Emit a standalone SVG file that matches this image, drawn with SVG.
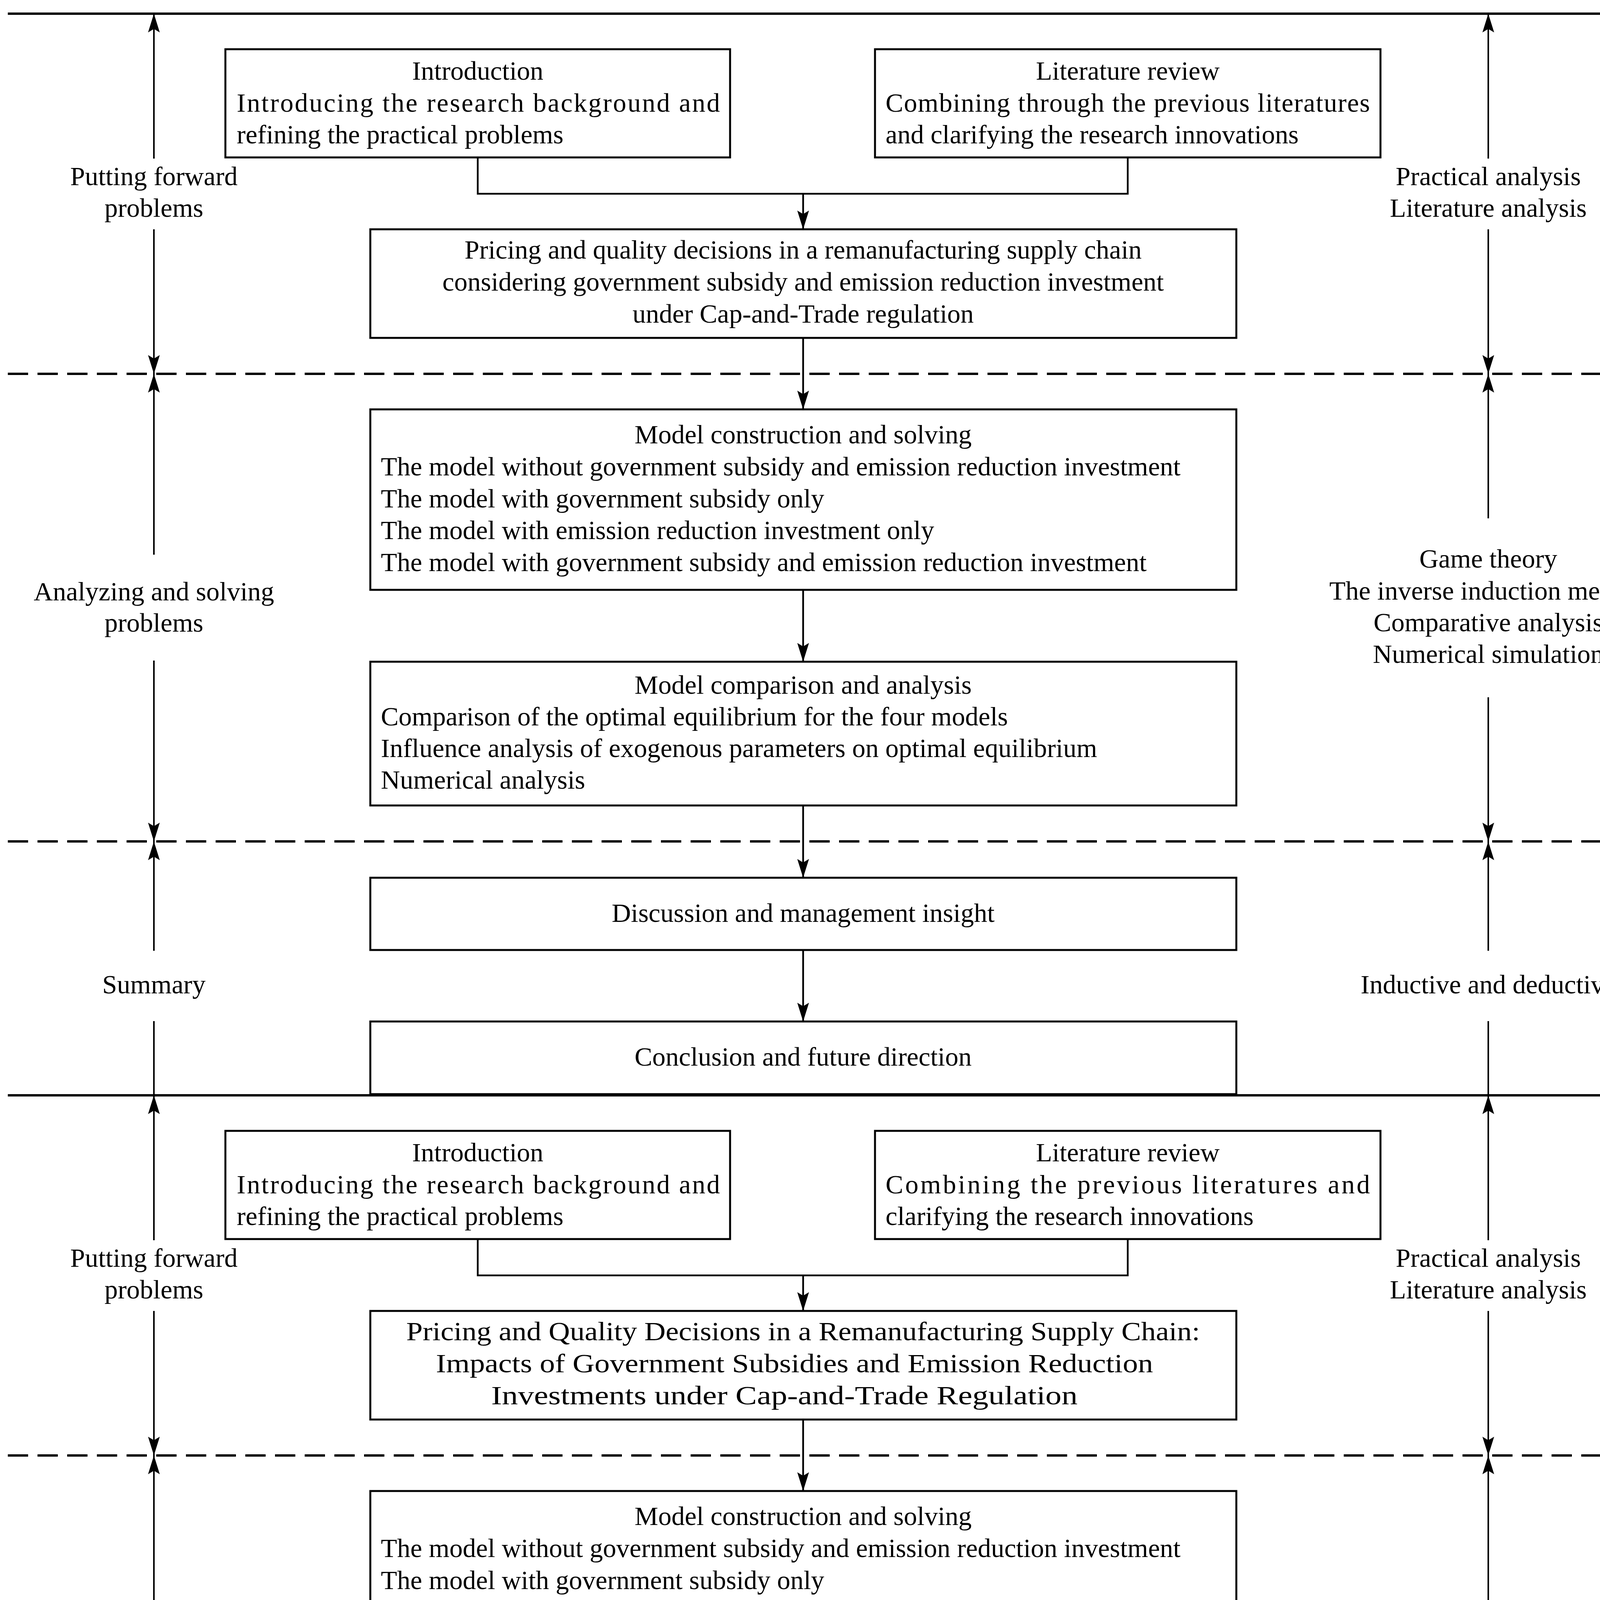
<svg xmlns="http://www.w3.org/2000/svg" width="4307" height="5687" viewBox="0 0 4307 5687">
<style>
.box{fill:#fff;stroke:#000;stroke-width:5}
.t{font-family:"Liberation Serif","Times New Roman",serif;font-size:68px;fill:#000}
.c{text-anchor:middle}
.conn{fill:none;stroke:#000;stroke-width:4.5}
.axis{fill:none;stroke:#000;stroke-width:4}
.sep{stroke:#000;stroke-width:6}
.dash{stroke:#000;stroke-width:6;stroke-dasharray:52 24}
</style>
<defs>
<marker id="ah" viewBox="-52 -18 54 36" markerWidth="54" markerHeight="36" refX="0" refY="0" orient="auto" markerUnits="userSpaceOnUse">
<path d="M0,0 L-48,-15 L-39,0 L-48,15 Z" fill="#000"/>
</marker>
</defs>
<rect width="4307" height="5687" fill="#fff"/>

<g id="separators">
<line class="sep" x1="20" y1="35" x2="4280" y2="35"/>
<line class="dash" x1="20" y1="957" x2="4280" y2="957"/>
<line class="dash" x1="20" y1="2154" x2="4280" y2="2154"/>
<line class="sep" x1="20" y1="2804" x2="4280" y2="2804"/>
<line class="dash" x1="20" y1="3726" x2="4280" y2="3726"/>
<line class="dash" x1="20" y1="4923" x2="4280" y2="4923"/>
<line class="sep" x1="20" y1="5665" x2="4280" y2="5665"/>
</g>

<!-- ===== Upper diagram ===== -->
<g id="upper">
<g id="connectors-upper">
<path class="conn" d="M1223,403 V496 H2887 V403"/>
<line class="conn" x1="2056" y1="496" x2="2056" y2="587" marker-end="url(#ah)"/>
<line class="conn" x1="2056" y1="865" x2="2056" y2="1048" marker-end="url(#ah)"/>
<line class="conn" x1="2056" y1="1510" x2="2056" y2="1694" marker-end="url(#ah)"/>
<line class="conn" x1="2056" y1="2062" x2="2056" y2="2247" marker-end="url(#ah)"/>
<line class="conn" x1="2056" y1="2432" x2="2056" y2="2615" marker-end="url(#ah)"/>
<line class="axis" x1="394" y1="406" x2="394" y2="35" marker-end="url(#ah)"/>
<line class="axis" x1="394" y1="587" x2="394" y2="957" marker-end="url(#ah)"/>
<line class="axis" x1="394" y1="1420" x2="394" y2="957" marker-end="url(#ah)"/>
<line class="axis" x1="394" y1="1691" x2="394" y2="2154" marker-end="url(#ah)"/>
<line class="axis" x1="394" y1="2434" x2="394" y2="2154" marker-end="url(#ah)"/>
<line class="axis" x1="394" y1="2614" x2="394" y2="2804"/>
<line class="axis" x1="3810" y1="406" x2="3810" y2="35" marker-end="url(#ah)"/>
<line class="axis" x1="3810" y1="587" x2="3810" y2="957" marker-end="url(#ah)"/>
<line class="axis" x1="3810" y1="1327" x2="3810" y2="957" marker-end="url(#ah)"/>
<line class="axis" x1="3810" y1="1785" x2="3810" y2="2154" marker-end="url(#ah)"/>
<line class="axis" x1="3810" y1="2434" x2="3810" y2="2154" marker-end="url(#ah)"/>
<line class="axis" x1="3810" y1="2614" x2="3810" y2="2804"/>
</g>

<g id="u-intro">
<rect class="box" x="577" y="126" width="1292" height="277"/>
<text class="t c" x="1223" y="204">Introduction</text>
<text class="t" x="606" y="286" textLength="1237" lengthAdjust="spacing">Introducing the research background and</text>
<text class="t" x="606" y="367">refining the practical problems</text>
</g>
<g id="u-litreview">
<rect class="box" x="2240" y="126" width="1294" height="277"/>
<text class="t c" x="2887" y="204">Literature review</text>
<text class="t" x="2267" y="286" textLength="1240" lengthAdjust="spacing">Combining through the previous literatures</text>
<text class="t" x="2267" y="367">and clarifying the research innovations</text>
</g>
<g id="u-topic">
<rect class="box" x="948" y="587" width="2217" height="278"/>
<text class="t c" x="2056" y="662">Pricing and quality decisions in a remanufacturing supply chain</text>
<text class="t c" x="2056" y="744">considering government subsidy and emission reduction investment</text>
<text class="t c" x="2056" y="826">under Cap-and-Trade regulation</text>
</g>
<g id="u-model">
<rect class="box" x="948" y="1048" width="2217" height="462"/>
<text class="t c" x="2056" y="1135">Model construction and solving</text>
<text class="t" x="975" y="1217">The model without government subsidy and emission reduction investment</text>
<text class="t" x="975" y="1299">The model with government subsidy only</text>
<text class="t" x="975" y="1380">The model with emission reduction investment only</text>
<text class="t" x="975" y="1462">The model with government subsidy and emission reduction investment</text>
</g>
<g id="u-compare">
<rect class="box" x="948" y="1694" width="2217" height="368"/>
<text class="t c" x="2056" y="1776">Model comparison and analysis</text>
<text class="t" x="975" y="1857">Comparison of the optimal equilibrium for the four models</text>
<text class="t" x="975" y="1938">Influence analysis of exogenous parameters on optimal equilibrium</text>
<text class="t" x="975" y="2019">Numerical analysis</text>
</g>
<g id="u-discussion">
<rect class="box" x="948" y="2247" width="2217" height="185"/>
<text class="t c" x="2056" y="2360">Discussion and management insight</text>
</g>
<g id="u-conclusion">
<rect class="box" x="948" y="2615" width="2217" height="186"/>
<text class="t c" x="2056" y="2728">Conclusion and future direction</text>
</g>
<g id="u-labels-left">
<text class="t c" x="394" y="474">Putting forward</text>
<text class="t c" x="394" y="555">problems</text>
<text class="t c" x="394" y="1537">Analyzing and solving</text>
<text class="t c" x="394" y="1617">problems</text>
<text class="t c" x="394" y="2543">Summary</text>
</g>
<g id="u-labels-right">
<text class="t c" x="3810" y="474">Practical analysis</text>
<text class="t c" x="3810" y="555">Literature analysis</text>
<text class="t c" x="3810" y="1453">Game theory</text>
<text class="t c" x="3810" y="1535">The inverse induction method</text>
<text class="t c" x="3810" y="1616">Comparative analysis</text>
<text class="t c" x="3810" y="1697">Numerical simulation</text>
<text class="t c" x="3810" y="2543">Inductive and deductive</text>
</g>
</g>

<!-- ===== Lower diagram ===== -->
<g id="lower" transform="translate(0,2769)">
<g id="connectors-lower">
<path class="conn" d="M1223,403 V496 H2887 V403"/>
<line class="conn" x1="2056" y1="496" x2="2056" y2="587" marker-end="url(#ah)"/>
<line class="conn" x1="2056" y1="865" x2="2056" y2="1048" marker-end="url(#ah)"/>
<line class="conn" x1="2056" y1="1510" x2="2056" y2="1694" marker-end="url(#ah)"/>
<line class="conn" x1="2056" y1="2062" x2="2056" y2="2247" marker-end="url(#ah)"/>
<line class="conn" x1="2056" y1="2432" x2="2056" y2="2615" marker-end="url(#ah)"/>
<line class="axis" x1="394" y1="406" x2="394" y2="35" marker-end="url(#ah)"/>
<line class="axis" x1="394" y1="587" x2="394" y2="957" marker-end="url(#ah)"/>
<line class="axis" x1="394" y1="1420" x2="394" y2="957" marker-end="url(#ah)"/>
<line class="axis" x1="394" y1="1691" x2="394" y2="2154" marker-end="url(#ah)"/>
<line class="axis" x1="394" y1="2434" x2="394" y2="2154" marker-end="url(#ah)"/>
<line class="axis" x1="394" y1="2614" x2="394" y2="2896" marker-end="url(#ah)"/>
<line class="axis" x1="3810" y1="406" x2="3810" y2="35" marker-end="url(#ah)"/>
<line class="axis" x1="3810" y1="587" x2="3810" y2="957" marker-end="url(#ah)"/>
<line class="axis" x1="3810" y1="1327" x2="3810" y2="957" marker-end="url(#ah)"/>
<line class="axis" x1="3810" y1="1785" x2="3810" y2="2154" marker-end="url(#ah)"/>
<line class="axis" x1="3810" y1="2434" x2="3810" y2="2154" marker-end="url(#ah)"/>
<line class="axis" x1="3810" y1="2614" x2="3810" y2="2896" marker-end="url(#ah)"/>
</g>

<g id="l-intro">
<rect class="box" x="577" y="126" width="1292" height="277"/>
<text class="t c" x="1223" y="204">Introduction</text>
<text class="t" x="606" y="286" textLength="1237" lengthAdjust="spacing">Introducing the research background and</text>
<text class="t" x="606" y="367">refining the practical problems</text>
</g>
<g id="l-litreview">
<rect class="box" x="2240" y="126" width="1294" height="277"/>
<text class="t c" x="2887" y="204">Literature review</text>
<text class="t" x="2267" y="286" textLength="1240" lengthAdjust="spacing">Combining the previous literatures and</text>
<text class="t" x="2267" y="367">clarifying the research innovations</text>
</g>
<g id="l-topic">
<rect class="box" x="948" y="587" width="2217" height="278"/>
<text class="t c" x="2056" y="662" textLength="2032" lengthAdjust="spacingAndGlyphs">Pricing and Quality Decisions in a Remanufacturing Supply Chain:</text>
<text class="t c" x="2034" y="744" textLength="1836" lengthAdjust="spacingAndGlyphs">Impacts of Government Subsidies and Emission Reduction</text>
<text class="t c" x="2008" y="826" textLength="1501" lengthAdjust="spacingAndGlyphs">Investments under Cap-and-Trade Regulation</text>
</g>
<g id="l-model">
<rect class="box" x="948" y="1048" width="2217" height="462"/>
<text class="t c" x="2056" y="1135">Model construction and solving</text>
<text class="t" x="975" y="1217">The model without government subsidy and emission reduction investment</text>
<text class="t" x="975" y="1299">The model with government subsidy only</text>
<text class="t" x="975" y="1380">The model with emission reduction investment only</text>
<text class="t" x="975" y="1462">The model with government subsidy and emission reduction investment</text>
</g>
<g id="l-compare">
<rect class="box" x="948" y="1694" width="2217" height="368"/>
<text class="t c" x="2056" y="1776">Model comparison and analysis</text>
<text class="t" x="975" y="1857">Comparison of the optimal equilibrium for the four models</text>
<text class="t" x="975" y="1938">Influence analysis of exogenous parameters on optimal equilibrium</text>
<text class="t" x="975" y="2019">Numerical analysis</text>
</g>
<g id="l-discussion">
<rect class="box" x="948" y="2247" width="2217" height="185"/>
<text class="t c" x="2056" y="2360">Discussion and management insight</text>
</g>
<g id="l-conclusion">
<rect class="box" x="948" y="2615" width="2217" height="186"/>
<text class="t c" x="2056" y="2728">Conclusion and future direction</text>
</g>
<g id="l-labels-left">
<text class="t c" x="394" y="474">Putting forward</text>
<text class="t c" x="394" y="555">problems</text>
<text class="t c" x="394" y="1537">Analyzing and solving</text>
<text class="t c" x="394" y="1617">problems</text>
<text class="t c" x="394" y="2543">Summary</text>
</g>
<g id="l-labels-right">
<text class="t c" x="3810" y="474">Practical analysis</text>
<text class="t c" x="3810" y="555">Literature analysis</text>
<text class="t c" x="3810" y="1453">Game theory</text>
<text class="t c" x="3810" y="1535">The inverse induction method</text>
<text class="t c" x="3810" y="1616">Comparative analysis</text>
<text class="t c" x="3810" y="1697">Numerical simulation</text>
<text class="t c" x="3810" y="2543">Inductive and deductive</text>
</g>
</g>
</svg>
